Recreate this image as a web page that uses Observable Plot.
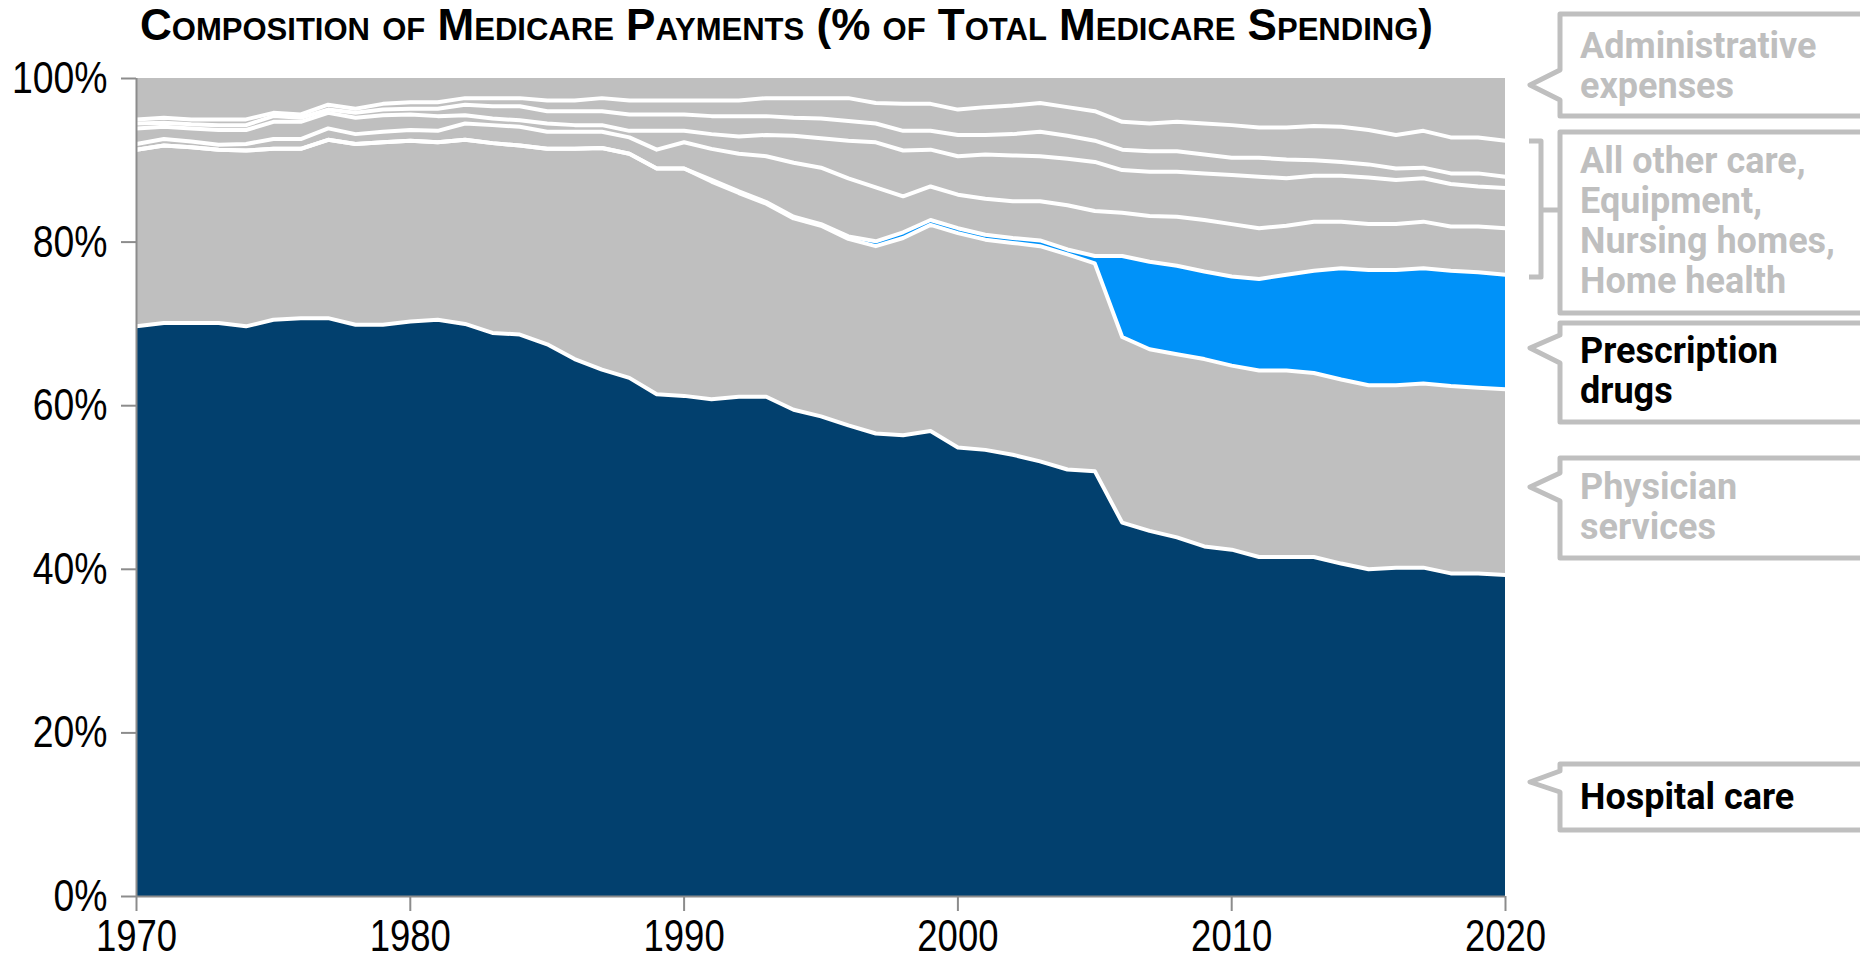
<!DOCTYPE html>
<html>
<head>
<meta charset="utf-8">
<script src="https://cdn.jsdelivr.net/npm/d3@7"></script>
<script src="https://cdn.jsdelivr.net/npm/@observablehq/plot@0.6"></script>
<style>
  html, body { margin: 0; padding: 0; background: #fff; }
  #wrap { position: relative; width: 1860px; height: 961px; overflow: hidden; }
  #chart { position: absolute; left: 0; top: 0; }
  #overlay { position: absolute; left: 0; top: 0; }
  .callout { font-family: Roboto, "Noto Sans", sans-serif; font-weight: 700; font-size: 36px; }
</style>
</head>
<body>
<div id="wrap">
  <div id="chart"></div>
  <svg id="overlay" width="1860" height="961"></svg>
</div>
<script>
// ---- Data (share of total Medicare spending, %, cumulative from the bottom) ----
const years = [1970,1971,1972,1973,1974,1975,1976,1977,1978,1979,
               1980,1981,1982,1983,1984,1985,1986,1987,1988,1989,
               1990,1991,1992,1993,1994,1995,1996,1997,1998,1999,
               2000,2001,2002,2003,2004,2005,2006,2007,2008,2009,
               2010,2011,2012,2013,2014,2015,2016,2017,2018,2019,
               2020];

const categories = ["Hospital care","Physician services","Prescription drugs","Home health",
                    "Nursing homes","Equipment","All other care","Administrative expenses"];
const colors = ["#02406E","#BFBFBF","#0092F9","#BFBFBF","#BFBFBF","#BFBFBF","#BFBFBF","#BFBFBF"];

// cumulative top of each layer
const topHospital = [69.7,70.1,70.1,70.1,69.7,70.5,70.7,70.7,69.9,69.9,
                     70.3,70.5,70.0,68.9,68.7,67.5,65.7,64.4,63.4,61.4,
                     61.2,60.8,61.1,61.1,59.5,58.7,57.6,56.6,56.4,56.9,
                     54.9,54.6,54.0,53.2,52.2,52.0,45.7,44.7,43.9,42.8,
                     42.4,41.5,41.5,41.5,40.7,40.0,40.2,40.2,39.5,39.5,
                     39.3];
const topPhysician = [91.3,91.8,91.6,91.3,91.2,91.4,91.4,92.5,92.0,92.2,
                      92.4,92.2,92.5,92.1,91.8,91.4,91.4,91.5,90.8,89.0,
                      89.0,87.4,86.0,84.7,82.9,82.0,80.4,79.5,80.5,82.1,
                      81.1,80.3,79.9,79.5,78.5,77.4,68.4,66.9,66.3,65.7,
                      64.9,64.3,64.3,64.0,63.2,62.5,62.5,62.7,62.4,62.2,
                      62.0];
const topDrugs = [91.3,91.8,91.6,91.3,91.2,91.4,91.4,92.5,92.0,92.2,
                  92.4,92.2,92.5,92.1,91.8,91.4,91.4,91.5,90.8,89.0,
                  89.0,87.6,86.2,84.9,83.1,82.2,80.7,80.1,81.2,82.7,
                  81.7,80.9,80.5,80.2,79.1,78.3,78.3,77.6,77.1,76.4,
                  75.8,75.5,76.0,76.5,76.8,76.6,76.6,76.8,76.5,76.3,
                  76.0];
const topHomeHealth = [92.0,92.6,92.3,91.9,92.0,92.6,92.6,93.9,93.2,93.5,
                       93.7,93.6,94.5,94.3,94.1,93.5,93.5,93.5,92.8,91.3,
                       92.2,91.4,90.8,90.5,89.7,89.1,87.8,86.7,85.6,86.8,
                       85.8,85.3,85.0,85.0,84.5,83.8,83.6,83.2,83.1,82.7,
                       82.2,81.7,82.0,82.5,82.5,82.2,82.2,82.5,81.9,81.9,
                       81.7];
const topNursing = [93.9,94.1,93.9,93.7,93.7,94.7,94.7,95.8,95.2,95.5,
                    95.6,95.4,95.5,95.1,94.9,94.5,94.3,94.3,93.6,93.6,
                    93.6,93.2,92.9,93.1,93.0,92.7,92.4,92.2,91.2,91.3,
                    90.5,90.7,90.6,90.5,90.2,89.8,88.8,88.6,88.6,88.4,
                    88.2,88.0,87.8,88.1,88.1,87.9,87.6,87.8,87.1,86.8,
                    86.6];
const topEquipment = [94.5,94.6,94.4,94.3,94.3,95.4,95.2,96.2,95.8,96.2,
                      96.3,96.3,96.8,96.6,96.6,96.0,96.0,96.0,95.6,95.6,
                      95.6,95.4,95.4,95.4,95.2,95.1,94.8,94.5,93.6,93.6,
                      93.1,93.1,93.2,93.5,93.0,92.4,91.3,91.1,91.1,90.7,
                      90.3,90.3,90.1,90.0,89.8,89.5,89.0,89.1,88.4,88.4,
                      88.0];
const topOtherCare = [95.0,95.2,95.0,95.0,95.0,95.8,95.6,96.8,96.3,96.9,
                      97.1,97.1,97.6,97.6,97.6,97.3,97.3,97.6,97.3,97.3,
                      97.3,97.3,97.3,97.6,97.6,97.6,97.6,97.0,96.9,96.9,
                      96.2,96.5,96.7,97.0,96.5,96.0,94.7,94.5,94.7,94.5,
                      94.3,94.0,94.0,94.2,94.1,93.7,93.1,93.6,92.8,92.8,
                      92.4];
const totalShare = 100; // administrative expenses fill up to 100%

const xTicks = [1970,1980,1990,2000,2010,2020];
const yTicks = [0,20,40,60,80,100];

// ---- build tables ----
const bounds = [years.map(() => 0), topHospital, topPhysician, topDrugs, topHomeHealth,
                topNursing, topEquipment, topOtherCare, years.map(() => totalShare)];
const areas = [];
categories.forEach((c, i) => {
  years.forEach((yr, j) => areas.push({year: yr, category: c, lo: bounds[i][j], hi: bounds[i + 1][j]}));
});
const lines = [];
for (let i = 1; i <= 7; i++) {
  years.forEach((yr, j) => lines.push({year: yr, boundary: i, value: bounds[i][j]}));
}

const axisGray = "#8C8C8C";
const chart = Plot.plot({
  width: 1520,
  height: 961,
  marginLeft: 136,
  marginRight: 15,
  marginTop: 78,
  marginBottom: 65,
  style: {fontFamily: '"Liberation Sans", Arial, sans-serif', fontSize: "45px", color: "#000", background: "transparent", overflow: "visible"},
  x: {domain: [1970, 2020], label: null},
  y: {domain: [0, 100], label: null},
  color: {domain: categories, range: colors},
  marks: [
    Plot.areaY(areas, {x: "year", y1: "lo", y2: "hi", fill: "category", z: "category"}),
    Plot.lineY(lines, {x: "year", y: "value", z: "boundary", stroke: "white", strokeWidth: 4, strokeLinejoin: "round"}),
    Plot.ruleX([1970], {stroke: axisGray, strokeWidth: 2}),
    Plot.ruleY([0], {stroke: axisGray, strokeWidth: 2}),
    Plot.axisX({ticks: xTicks, tickFormat: d => String(d), tickSize: 15, tickPadding: 8, fontSize: 44, stroke: axisGray, strokeWidth: 2, fill: "#000", label: null}),
    Plot.axisY({ticks: yTicks, tickFormat: d => d + "%", tickSize: 15, tickPadding: 14, stroke: axisGray, strokeWidth: 2, fill: "#000", label: null})
  ]
});
document.getElementById("chart").appendChild(chart);

// condense the tick labels (narrow face, like Arial Narrow)
chart.querySelectorAll("text").forEach(t => {
  const w = t.getComputedTextLength();
  if (w > 0) {
    t.setAttribute("textLength", (w * 0.83).toFixed(1));
    t.setAttribute("lengthAdjust", "spacingAndGlyphs");
  }
});

// ---- title and callouts ----
const ov = d3.select("#overlay");
ov.append("text")
  .attr("x", 140).attr("y", 40)
  .attr("font-family", '"Liberation Sans", Arial, sans-serif')
  .attr("font-weight", 700)
  .attr("font-size", 44)
  .attr("font-variant", "small-caps")
  .attr("textLength", 1293)
  .attr("lengthAdjust", "spacingAndGlyphs")
  .attr("fill", "#000")
  .text("Composition of Medicare Payments (% of Total Medicare Spending)");

const boxGray = "#BFBFBF";
const boxes = [
  {top: 14, bottom: 116, ptr: [70, 85, 100], lines: ["Administrative", "expenses"], base: 58, color: boxGray},
  {top: 132, bottom: 313, ptr: null, lines: ["All other care,", "Equipment,", "Nursing homes,", "Home health"], base: 173, color: boxGray},
  {top: 323, bottom: 422, ptr: [335, 348, 363], lines: ["Prescription", "drugs"], base: 363, color: "#000"},
  {top: 458, bottom: 558, ptr: [473, 487, 501], lines: ["Physician", "services"], base: 499, color: boxGray},
  {top: 764, bottom: 830, ptr: [771, 782, 792], lines: ["Hospital care"], base: 809, color: "#000"}
];
const L = 1560, R = 1890, tipX = 1530;
boxes.forEach(b => {
  let p = `M${R},${b.top} L${L},${b.top} `;
  if (b.ptr) p += `L${L},${b.ptr[0]} L${tipX},${b.ptr[1]} L${L},${b.ptr[2]} `;
  p += `L${L},${b.bottom} L${R},${b.bottom}`;
  ov.append("path").attr("d", p).attr("fill", "#fff").attr("stroke", boxGray)
    .attr("stroke-width", 5).attr("stroke-linejoin", "round");
  b.lines.forEach((t, k) => {
    ov.append("text").attr("class", "callout").attr("x", 1580).attr("y", b.base + k * 40)
      .attr("fill", b.color).text(t);
  });
});
// bracket for grouped categories
ov.append("path")
  .attr("d", "M1529,141 L1541,141 L1541,277 L1529,277 M1541,210 L1560,210")
  .attr("fill", "none").attr("stroke", boxGray).attr("stroke-width", 5).attr("stroke-linejoin", "round");
</script>
</body>
</html>
